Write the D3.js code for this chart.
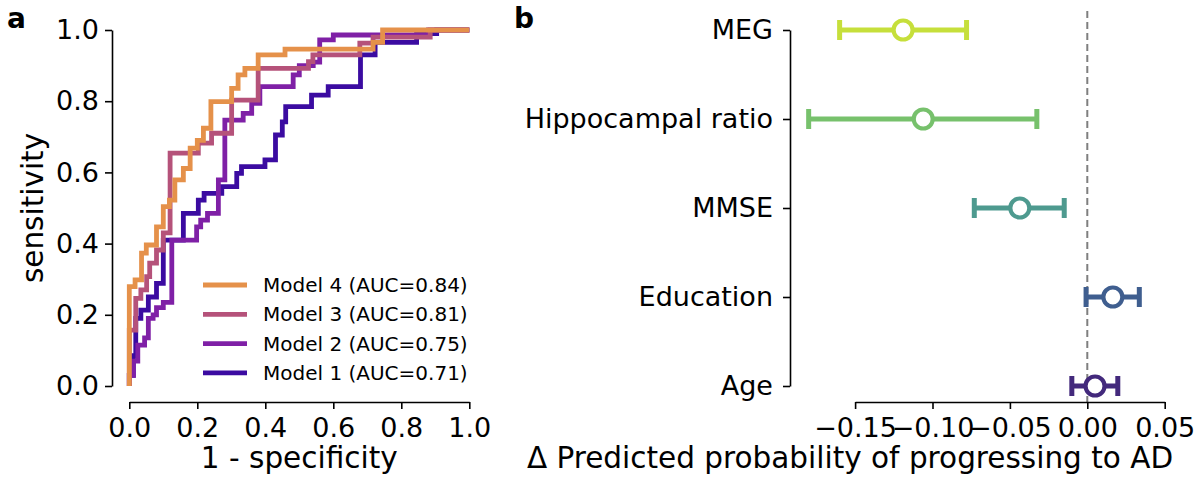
<!DOCTYPE html>
<html>
<head>
<meta charset="utf-8">
<script src="https://cdn.jsdelivr.net/npm/d3@7/dist/d3.min.js"></script>
<style>
  html, body { margin: 0; padding: 0; background: #ffffff; }
  #chart { width: 1200px; height: 491px; }
  text { font-family: "DejaVu Sans", sans-serif; fill: #000; }
</style>
</head>
<body>
<div id="chart"></div>
<script>
// --- data: ROC curves, each point = [fpr, tpr] after an up-then-right step ---
const rocModel1 = [[0,0],[0.012,0.03],[0.019,0.085],[0.034,0.19],[0.056,0.213],[0.08,0.25],[0.1,0.288],
  [0.159,0.41],[0.203,0.485],[0.22,0.522],[0.272,0.541],[0.316,0.56],[0.33,0.597],[0.399,0.616],
  [0.43,0.635],[0.45,0.705],[0.46,0.742],[0.536,0.785],[0.585,0.817],[0.68,0.841],[0.723,0.93],
  [0.845,0.965],[0.904,0.99],[1,1]];
const rocModel2 = [[0,0],[0.012,0.03],[0.025,0.07],[0.045,0.115],[0.056,0.135],[0.07,0.19],[0.08,0.2],
  [0.1,0.22],[0.125,0.235],[0.198,0.41],[0.21,0.447],[0.23,0.466],[0.262,0.485],[0.281,0.579],
  [0.335,0.747],[0.36,0.766],[0.384,0.794],[0.482,0.841],[0.5,0.874],[0.541,0.9],[0.56,0.91],
  [0.6,0.972],[0.88,0.986],[1,1]];
const rocModel3 = [[0,0],[0.019,0.157],[0.034,0.246],[0.051,0.27],[0.06,0.307],[0.08,0.345],[0.1,0.382],
  [0.12,0.43],[0.203,0.654],[0.242,0.682],[0.301,0.71],[0.379,0.803],[0.527,0.892],[0.54,0.911],
  [0.678,0.93],[0.717,0.963],[0.885,0.98],[1,1]];
const rocModel4 = [[0,0],[0.017,0.279],[0.036,0.298],[0.05,0.373],[0.08,0.396],[0.1,0.447],[0.118,0.504],
  [0.134,0.522],[0.159,0.579],[0.179,0.611],[0.2,0.668],[0.218,0.69],[0.24,0.724],[0.301,0.799],
  [0.32,0.836],[0.34,0.874],[0.379,0.892],[0.458,0.93],[0.717,0.946],[0.745,0.965],[1,1]];

const modelNames = ["Model 1", "Model 2", "Model 3", "Model 4"];
const modelAuc = ["0.71", "0.75", "0.81", "0.84"];
const modelCurves = [rocModel1, rocModel2, rocModel3, rocModel4];
const modelColors = ["#3b0ba1", "#7f20a6", "#b5527a", "#e5914a"];

const rocTicks = [0, 0.2, 0.4, 0.6, 0.8, 1.0];

// --- data: panel b, effect of each predictor ---
const predictors = ["MEG", "Hippocampal ratio", "MMSE", "Education", "Age"];
const effectMean = [-0.119, -0.106, -0.0436, 0.0165, 0.005];
const effectLow = [-0.160, -0.180, -0.073, -0.0008, -0.010];
const effectHigh = [-0.078, -0.0326, -0.0149, 0.0336, 0.0197];
const predictorColors = ["#c6df3b", "#77c16c", "#4e9a8f", "#3f5e8f", "#43297c"];
const effectTicks = [-0.15, -0.10, -0.05, 0.00, 0.05];

document.addEventListener('DOMContentLoaded', function () {
    const width = 1200, height = 491;
    const svg = d3.select("#chart").append("svg")
        .attr("width", width)
        .attr("height", height)
        .attr("viewBox", `0 0 ${width} ${height}`);

    const tickFont = 27, labelFont = 29.5;

    // ---------- panel a: ROC ----------
    const xa = d3.scaleLinear().domain([0, 1]).range([129.3, 469.3]);
    const ya = d3.scaleLinear().domain([0, 1]).range([386, 30]);

    const gA = svg.append("g");

    gA.append("g")
        .attr("transform", "translate(0,402)")
        .call(d3.axisBottom(xa).tickValues(rocTicks).tickFormat(d3.format(".1f"))
            .tickSize(7).tickSizeOuter(0).tickPadding(9));
    gA.append("g")
        .attr("transform", "translate(112,0)")
        .call(d3.axisLeft(ya).tickValues(rocTicks).tickFormat(d3.format(".1f"))
            .tickSize(7).tickSizeOuter(0).tickPadding(6));

    const line = d3.line()
        .x(d => xa(d[0]))
        .y(d => ya(d[1]))
        .curve(d3.curveStepBefore);

    gA.append("g").selectAll("path")
        .data(modelCurves)
        .join("path")
        .attr("d", d => line(d))
        .attr("fill", "none")
        .attr("stroke", (d, i) => modelColors[i])
        .attr("stroke-width", 4.8)
        .attr("stroke-linejoin", "miter");

    // legend, Model 4 at top
    const legendOrder = [3, 2, 1, 0];
    const legend = gA.append("g").selectAll("g")
        .data(legendOrder)
        .join("g")
        .attr("transform", (d, i) => `translate(203,${285 + i * 29.3})`);
    legend.append("line")
        .attr("x1", 0).attr("x2", 44)
        .attr("stroke", d => modelColors[d])
        .attr("stroke-width", 4.8);
    legend.append("text")
        .attr("x", 60).attr("y", 7)
        .style("font-size", "20px")
        .text(d => `${modelNames[d]} (AUC=${modelAuc[d]})`);

    gA.append("text")
        .attr("x", xa(0.5)).attr("y", 468)
        .attr("text-anchor", "middle")
        .style("font-size", labelFont + "px")
        .text("1 - specificity");
    gA.append("text")
        .attr("transform", `translate(43,${ya(0.5)}) rotate(-90)`)
        .attr("text-anchor", "middle")
        .style("font-size", labelFont + "px")
        .text("sensitivity");

    // ---------- panel b: effects ----------
    const xb = d3.scaleLinear().domain([-0.15, 0.05]).range([855.1, 1164.7]);
    const yb = d3.scalePoint().domain(predictors).range([30, 386]);

    const gB = svg.append("g");

    gB.append("line")
        .attr("x1", xb(0)).attr("x2", xb(0))
        .attr("y1", 11).attr("y2", 402)
        .attr("stroke", "#7f7f7f")
        .attr("stroke-width", 2)
        .attr("stroke-dasharray", "7,4");

    gB.append("g")
        .attr("transform", "translate(0,402)")
        .call(d3.axisBottom(xb).tickValues(effectTicks).tickFormat(d3.format(".2f"))
            .tickSize(7).tickSizeOuter(0).tickPadding(9));
    gB.append("g")
        .attr("transform", "translate(790,0)")
        .call(d3.axisLeft(yb).tickSize(7).tickSizeOuter(0).tickPadding(10));

    const bars = gB.append("g").selectAll("g")
        .data(predictors)
        .join("g")
        .attr("transform", d => `translate(0,${yb(d)})`);
    bars.append("line")
        .attr("x1", (d, i) => xb(effectLow[i]))
        .attr("x2", (d, i) => xb(effectHigh[i]))
        .attr("stroke", (d, i) => predictorColors[i])
        .attr("stroke-width", 5);
    bars.append("line")
        .attr("x1", (d, i) => xb(effectLow[i]))
        .attr("x2", (d, i) => xb(effectLow[i]))
        .attr("y1", -10).attr("y2", 10)
        .attr("stroke", (d, i) => predictorColors[i])
        .attr("stroke-width", 5);
    bars.append("line")
        .attr("x1", (d, i) => xb(effectHigh[i]))
        .attr("x2", (d, i) => xb(effectHigh[i]))
        .attr("y1", -10).attr("y2", 10)
        .attr("stroke", (d, i) => predictorColors[i])
        .attr("stroke-width", 5);
    bars.append("circle")
        .attr("cx", (d, i) => xb(effectMean[i]))
        .attr("r", 9.5)
        .attr("fill", "#ffffff")
        .attr("stroke", (d, i) => predictorColors[i])
        .attr("stroke-width", 4.2);

    gB.append("text")
        .attr("x", 850).attr("y", 468)
        .attr("text-anchor", "middle")
        .style("font-size", labelFont + "px")
        .text("Δ Predicted probability of progressing to AD");

    // common axis styling
    svg.selectAll(".domain, .tick line")
        .attr("stroke", "#000")
        .attr("stroke-width", 1.6);
    svg.selectAll(".tick text")
        .style("font-size", tickFont + "px")
        .style("font-family", "'DejaVu Sans', sans-serif")
        .attr("fill", "#000");

    // panel letters
    svg.append("text").attr("x", 7).attr("y", 28)
        .style("font-size", "28px").style("font-weight", "bold").text("a");
    svg.append("text").attr("x", 514).attr("y", 28)
        .style("font-size", "28px").style("font-weight", "bold").text("b");
});
</script>
</body>
</html>
